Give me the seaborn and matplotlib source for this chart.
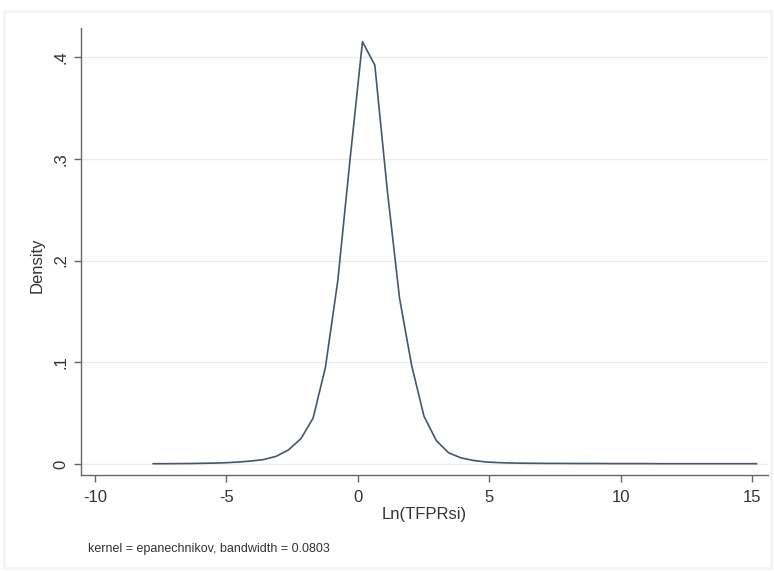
import matplotlib
matplotlib.use("Agg")
import matplotlib.pyplot as plt
import seaborn as sns
import pandas as pd

# ---- data ----
x_vals = [-7.79, -7.32, -6.85, -6.38, -5.91, -5.45, -4.98, -4.51, -4.04, -3.57,
          -3.10, -2.63, -2.16, -1.70, -1.23, -0.76, -0.29, 0.18, 0.65, 1.12,
          1.59, 2.05, 2.52, 2.99, 3.46, 3.93, 4.40, 4.87, 5.33, 5.80,
          6.27, 6.74, 7.21, 7.68, 8.15, 8.62, 9.08, 9.55, 10.02, 10.49,
          10.96, 11.43, 11.90, 12.36, 12.83, 13.30, 13.77, 14.24, 14.71, 15.18]
density = [0.0003, 0.0003, 0.0004, 0.0005, 0.0007, 0.0009, 0.0013, 0.0020, 0.0030, 0.0044,
           0.0076, 0.0140, 0.0250, 0.0450, 0.0950, 0.1800, 0.3000, 0.4150, 0.3920, 0.2700,
           0.1630, 0.0970, 0.0470, 0.0230, 0.0110, 0.0060, 0.0035, 0.0020, 0.0014, 0.0010,
           0.0008, 0.0007, 0.0006, 0.0006, 0.0005, 0.0005, 0.0005, 0.0004, 0.0004, 0.0004,
           0.0004, 0.0003, 0.0003, 0.0003, 0.0003, 0.0003, 0.0003, 0.0003, 0.0003, 0.0003]
x_ticks = [-10, -5, 0, 5, 10, 15]
x_tick_labels = ["-10", "-5", "0", "5", "10", "15"]
y_ticks = [0, 0.1, 0.2, 0.3, 0.4]
y_tick_labels = ["0", ".1", ".2", ".3", ".4"]
x_label = "Ln(TFPRsi)"
y_label = "Density"
note = "kernel = epanechnikov, bandwidth = 0.0803"

df = pd.DataFrame({"x": x_vals, "density": density})

sns.set_theme(style="white")
plt.rcParams["font.family"] = ["Liberation Sans", "DejaVu Sans"]

fig = plt.figure(figsize=(7.74, 5.71), dpi=100)
fig.patch.set_facecolor("white")

# faint outer graph-region frame
frame = plt.Rectangle((4 / 774, 3 / 571), 767 / 774, 557 / 571, transform=fig.transFigure,
                      facecolor="none", edgecolor="#f3f3f3", linewidth=2.0, zorder=0)
fig.patches.append(frame)

ax = fig.add_axes([81 / 774, 1 - 475 / 571, (768 - 81) / 774, (475 - 28) / 571])
ax.set_facecolor("white")

sns.lineplot(data=df, x="x", y="density", ax=ax, color="#46566c", linewidth=1.2,
             estimator=None, sort=False)

ax.set_xlim(-10.53, 15.61)
ax.set_ylim(-0.0108, 0.4285)

ax.set_xticks(x_ticks)
ax.set_xticklabels(x_tick_labels, fontsize=12, color="#333333")
ax.set_yticks(y_ticks)
ax.set_yticklabels(y_tick_labels, fontsize=12, color="#333333", rotation=90, va="center")

ax.grid(axis="y", color="#ebebeb", linewidth=1.0)
ax.grid(axis="x", visible=False)

for side in ["top", "right"]:
    ax.spines[side].set_visible(False)
for side in ["left", "bottom"]:
    ax.spines[side].set_color("#666666")
    ax.spines[side].set_linewidth(1.0)

ax.tick_params(axis="x", which="major", direction="out", length=5, width=1.0,
               color="#666666", bottom=True, pad=6)
ax.tick_params(axis="y", which="major", direction="out", length=5, width=1.0,
               color="#666666", left=True, pad=4)

ax.set_xlabel("")
ax.set_ylabel("")
fig.text(424 / 774, 1 - 514 / 571, x_label, ha="center", va="center", fontsize=12, color="#333333")
fig.text(37 / 774, 1 - 265 / 571, y_label, ha="center", va="center", rotation=90,
         fontsize=12, color="#333333")
fig.text(88 / 774, 1 - 549 / 571, note, ha="left", va="center", fontsize=9, color="#333333")

fig.savefig("out.png", dpi=100, facecolor="white")
